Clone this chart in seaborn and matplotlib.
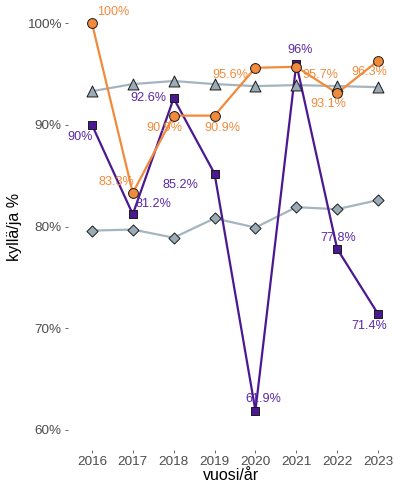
import matplotlib
matplotlib.use('Agg')
import matplotlib.pyplot as plt
import pandas as pd
import seaborn as sns
from matplotlib.ticker import FuncFormatter

years = [2016, 2017, 2018, 2019, 2020, 2021, 2022, 2023]

purple_vals = [90.0, 81.2, 92.6, 85.2, 61.9, 96.0, 77.8, 71.4]
orange_vals = [100.0, 83.3, 90.9, 90.9, 95.6, 95.7, 93.1, 96.3]
triangle_vals = [93.3, 94.0, 94.3, 94.0, 93.8, 93.9, 93.8, 93.7]
diamond_vals = [79.6, 79.7, 78.9, 80.8, 79.9, 81.9, 81.7, 82.6]

y_ticks = [60, 70, 80, 90, 100]

series = ['diamond', 'triangle', 'purple', 'orange']
df = pd.concat([
    pd.DataFrame({'vuosi': years, 'pct': diamond_vals, 'grp': 'diamond'}),
    pd.DataFrame({'vuosi': years, 'pct': triangle_vals, 'grp': 'triangle'}),
    pd.DataFrame({'vuosi': years, 'pct': purple_vals, 'grp': 'purple'}),
    pd.DataFrame({'vuosi': years, 'pct': orange_vals, 'grp': 'orange'}),
], ignore_index=True)

line_cols = {'diamond': '#A5B5BF', 'triangle': '#A5B5BF',
             'purple': '#4B1891', 'orange': '#F28A3C'}
fill_cols = {'diamond': '#9AABB6', 'triangle': '#9AABB6',
             'purple': '#4B1891', 'orange': '#F28A3C'}
marks = {'diamond': 'D', 'triangle': '^', 'purple': 's', 'orange': 'o'}
msize = {'diamond': 32, 'triangle': 62, 'purple': 34, 'orange': 50}

# label offsets in pixels (dx, dy down)
purple_off = [(-12, 12), (21, -10), (-25, 0), (-34, 11), (8, -12), (4, -14), (1, -11), (-9, 12)]
orange_off = [(21, -11), (-16, -11), (-9, 12), (8, 12), (-25, 7), (24, 8), (-9, 11), (-9, 11)]

plt.rcParams['font.family'] = ['Liberation Sans', 'DejaVu Sans']

fig = plt.figure(figsize=(3.94, 4.84), dpi=100)
ax = fig.add_axes([68 / 394, 34 / 484, 326 / 394, 447 / 484])

for g in series:
    d = df[df['grp'] == g]
    sns.lineplot(data=d, x='vuosi', y='pct', color=line_cols[g], linewidth=1.6,
                 ax=ax, legend=False, zorder=2)
    sns.scatterplot(data=d, x='vuosi', y='pct', color=fill_cols[g], marker=marks[g],
                    s=msize[g], edgecolor='#1a1a1a', linewidth=0.7, ax=ax,
                    legend=False, zorder=3)

for yr, v, (dx, dy) in zip(years, purple_vals, purple_off):
    ax.annotate(f'{v:g}%', (yr, v), xytext=(dx, -dy), textcoords='offset pixels',
                ha='center', va='center', fontsize=9.1, color='#5A28A6', zorder=5)
for yr, v, (dx, dy) in zip(years, orange_vals, orange_off):
    ax.annotate(f'{v:g}%', (yr, v), xytext=(dx, -dy), textcoords='offset pixels',
                ha='center', va='center', fontsize=9.1, color='#F28A3C', zorder=5)

ax.set_xlim(2015.415, 2023.39)
ax.set_ylim(58.03, 101.97)
ax.set_xticks(years)
ax.set_yticks(y_ticks)
ax.yaxis.set_major_formatter(FuncFormatter(lambda v, p: f'{v:.0f}%'))
for s in ax.spines.values():
    s.set_visible(False)
ax.tick_params(axis='both', labelsize=9.7, labelcolor='#4D4D4D', color='#4D4D4D',
               length=2.5, width=0.6, pad=2)
ax.set_xlabel('vuosi/år', fontsize=11.5, labelpad=0)
ax.set_ylabel('kyllä/ja %', fontsize=11.5, labelpad=4)

fig.savefig('out.png', dpi=100)
